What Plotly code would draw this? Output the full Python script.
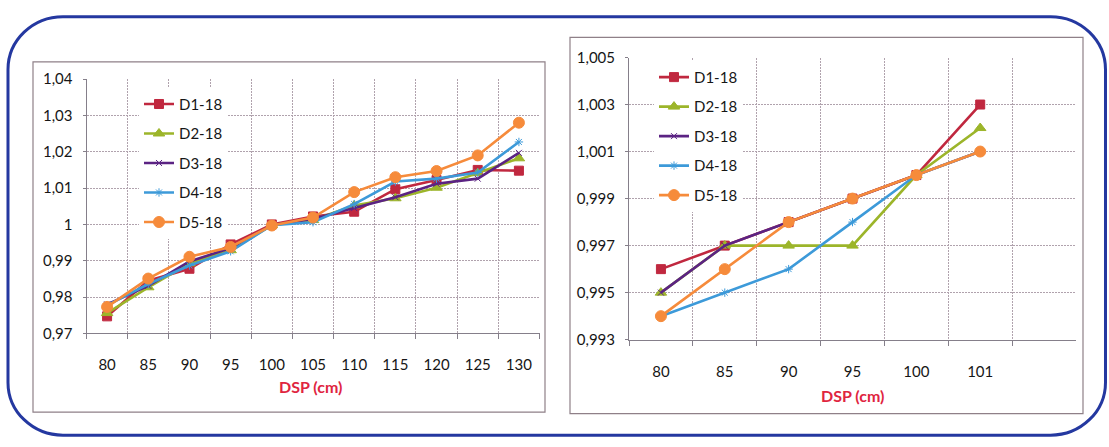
import plotly.graph_objects as go

W, H = 1109, 447

# ---- Left panel: DSP 80..130 cm
dsp_left = ["80", "85", "90", "95", "100", "105", "110", "115", "120", "125", "130"]
d1_left = [0.9747, 0.9845, 0.9878, 0.9945, 1.0000, 1.0022, 1.0035, 1.0097, 1.0122, 1.0150, 1.0148]
d2_left = [0.9756, 0.9827, 0.9893, 0.9929, 0.9998, 1.0012, 1.0052, 1.0072, 1.0101, 1.0141, 1.0182]
d3_left = [0.9780, 0.9831, 0.9898, 0.9935, 0.9998, 1.0015, 1.0045, 1.0075, 1.0112, 1.0126, 1.0197]
d4_left = [0.9777, 0.9836, 0.9887, 0.9926, 0.9998, 1.0006, 1.0056, 1.0118, 1.0126, 1.0143, 1.0227]
d5_left = [0.9773, 0.9851, 0.9911, 0.9938, 0.9997, 1.0019, 1.0089, 1.0130, 1.0147, 1.0190, 1.0280]
left_ytick_vals = [0.97, 0.98, 0.99, 1.00, 1.01, 1.02, 1.03, 1.04]
left_ytick_text = ["0,97", "0,98", "0,99", "1", "1,01", "1,02", "1,03", "1,04"]

# ---- Right panel: DSP 80..101 cm
dsp_right = ["80", "85", "90", "95", "100", "101"]
d1_right = [0.996, 0.997, 0.998, 0.999, 1.000, 1.003]
d2_right = [0.995, 0.997, 0.997, 0.997, 1.000, 1.002]
d3_right = [0.995, 0.997, 0.998, 0.999, 1.000, 1.001]
d4_right = [0.994, 0.995, 0.996, 0.998, 1.000, 1.001]
d5_right = [0.994, 0.996, 0.998, 0.999, 1.000, 1.001]
right_ytick_vals = [0.993, 0.995, 0.997, 0.999, 1.001, 1.003, 1.005]
right_ytick_text = ["0,993", "0,995", "0,997", "0,999", "1,001", "1,003", "1,005"]

series_names = ["D1-18", "D2-18", "D3-18", "D4-18", "D5-18"]
left_values = [d1_left, d2_left, d3_left, d4_left, d5_left]
right_values = [d1_right, d2_right, d3_right, d4_right, d5_right]

colors = ["#c0283f", "#9cb52a", "#5b2383", "#3d9ad9", "#f68b3b"]
symbols = ["square", "triangle-up", "x-thin-open", "asterisk-open", "circle"]
msizes = [9, 10, 6, 7, 11]

FONT = "Lato"


def px_x(x):
    return x / W


def px_y(y):
    return 1 - y / H


fig = go.Figure()

for i, name in enumerate(series_names):
    mk = dict(symbol=symbols[i], size=msizes[i], color=colors[i],
              line=dict(color=colors[i], width=1))
    fig.add_trace(go.Scatter(
        x=dsp_left, y=left_values[i], name=name, mode="lines+markers",
        line=dict(color=colors[i], width=2.6), marker=mk,
        xaxis="x", yaxis="y", legend="legend", legendgroup="L%d" % i,
    ))
for i, name in enumerate(series_names):
    mk = dict(symbol=symbols[i], size=msizes[i], color=colors[i],
              line=dict(color=colors[i], width=1))
    fig.add_trace(go.Scatter(
        x=dsp_right, y=right_values[i], name=name, mode="lines+markers",
        line=dict(color=colors[i], width=2.6), marker=mk,
        xaxis="x2", yaxis="y2", legend="legend2", legendgroup="R%d" % i,
    ))

grid_color = "#b0a2ad"
axis_line = "#857f8a"
tick_font = dict(family=FONT, size=15, color="#161616")

common_x = dict(
    type="category", tickson="boundaries", showgrid=True, gridcolor=grid_color,
    griddash="2px,1px", gridwidth=1, showline=True, linecolor=axis_line,
    ticks="outside", ticklen=5, tickcolor=axis_line, tickfont=tick_font,
    ticklabelstandoff=18, zeroline=False, fixedrange=True,
)
common_y = dict(
    showgrid=True, gridcolor=grid_color, griddash="2px,1px", gridwidth=1,
    showline=True, linecolor=axis_line, ticks="outside", ticklen=3,
    tickcolor=axis_line, tickfont=tick_font, ticklabelstandoff=7,
    zeroline=False, tickmode="array",
)

legend_font = dict(family=FONT, size=15, color="#161616")

fig.update_layout(
    width=W, height=H, margin=dict(l=0, r=0, t=0, b=0),
    paper_bgcolor="white", plot_bgcolor="white", showlegend=True,
    xaxis=dict(common_x, domain=[px_x(86.5), px_x(539.5)],
               categoryorder="array", categoryarray=dsp_left,
               range=[-0.5, len(dsp_left) - 0.5], anchor="y"),
    yaxis=dict(common_y, domain=[px_y(337), px_y(72)], range=[0.97, 1.04],
               tickvals=left_ytick_vals, ticktext=left_ytick_text, anchor="x"),
    xaxis2=dict(common_x, domain=[px_x(629), px_x(1076)],
                categoryorder="array", categoryarray=dsp_right,
                range=[-0.5, len(dsp_right) + 0.5], anchor="y2"),
    yaxis2=dict(common_y, domain=[px_y(343.5), px_y(49.5)], range=[0.993, 1.005],
                tickvals=right_ytick_vals, ticktext=right_ytick_text, anchor="x2"),
    legend=dict(x=px_x(139), y=px_y(81), xanchor="left", yanchor="top",
                bgcolor="white", borderwidth=0, tracegroupgap=7,
                traceorder="grouped", font=legend_font),
    legend2=dict(x=px_x(654), y=px_y(53), xanchor="left", yanchor="top",
                 bgcolor="white", borderwidth=0, tracegroupgap=7,
                 traceorder="grouped", font=legend_font),
)

# axis titles
for cx, cy in [(310, 392), (852, 402)]:
    fig.add_annotation(x=px_x(cx), y=px_y(cy), xref="paper", yref="paper",
                       text="<b>DSP (cm)</b>", showarrow=False,
                       font=dict(family=FONT, size=16, color="#e0253f"),
                       xanchor="center", yanchor="middle")

# chart frames
frame_color = "#8f8088"
for x0, y0, x1, y1 in [(33, 54, 545, 419), (570, 28.5, 1083, 420.5)]:
    fig.add_shape(type="rect", xref="paper", yref="paper",
                  x0=px_x(x0), x1=px_x(x1), y0=px_y(y1), y1=px_y(y0),
                  line=dict(color=frame_color, width=1.2), fillcolor="rgba(0,0,0,0)",
                  layer="below")


def rounded_path(x0, y0, x1, y1, r):
    k = 0.4477 * r
    pts = [
        ("M", [(x0 + r, y0)]),
        ("L", [(x1 - r, y0)]),
        ("C", [(x1 - k, y0), (x1, y0 + k), (x1, y0 + r)]),
        ("L", [(x1, y1 - r)]),
        ("C", [(x1, y1 - k), (x1 - k, y1), (x1 - r, y1)]),
        ("L", [(x0 + r, y1)]),
        ("C", [(x0 + k, y1), (x0, y1 - k), (x0, y1 - r)]),
        ("L", [(x0, y0 + r)]),
        ("C", [(x0, y0 + k), (x0 + k, y0), (x0 + r, y0)]),
    ]
    parts = []
    for cmd, coords in pts:
        parts.append(cmd + " " + " ".join("%.5f,%.5f" % (px_x(a), px_y(b)) for a, b in coords))
    return " ".join(parts) + " Z"


fig.add_shape(type="path", xref="paper", yref="paper",
              path=rounded_path(8, 7, 1105.5, 443, 55),
              line=dict(color="#2438a0", width=3))

fig.write_html("out.html")
